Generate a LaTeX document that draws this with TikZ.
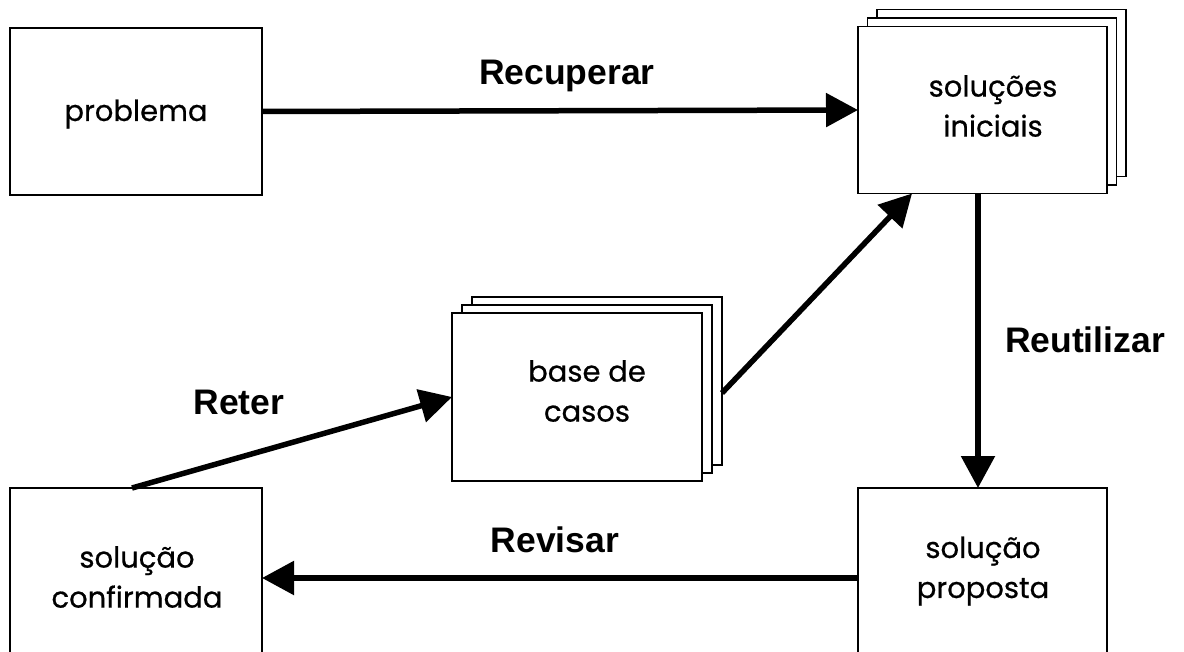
\documentclass[tikz,border=0pt]{standalone}
\usepackage{fontspec}
\newfontfamily\boxfont{Poppins}[FakeBold=0.6]
\newfontfamily\labelfont{Liberation Sans}
\usetikzlibrary{arrows.meta}
\begin{document}
\begin{tikzpicture}[x=1pt,y=-1pt,
  box/.style={draw, line width=1.4pt, fill=white, inner sep=0pt, outer sep=0pt,
              minimum width=250pt, minimum height=167pt},
  boxtext/.style={font=\boxfont\fontsize{29}{40}\selectfont, align=center, inner sep=0pt},
  flow/.style={line width=5.5pt, -{Triangle[length=32pt,width=33pt]}},
  steplabel/.style={font=\labelfont\bfseries\fontsize{35.5}{40}\selectfont, inner sep=0pt}]
\useasboundingbox (0,0) rectangle (1184,652);
\clip (0,0) rectangle (1184,652);

% single boxes
\node[box, minimum width=252pt] (prob) at (136,111.5) {};
\node[box, minimum width=252pt] (conf) at (136,571.5) {};
\node[box, minimum width=249pt] (prop) at (982.5,571.5) {};

% stacked boxes: back sheets first, front sheet last
\node[box, minimum width=249pt] (ini3) at (1001.5,93) {};
\node[box, minimum width=249pt] (ini2) at (992,101.5) {};
\node[box, minimum width=249pt] (ini)  at (982.5,110) {};

\node[box, minimum height=168pt] (base3) at (597,381) {};
\node[box, minimum height=168pt] (base2) at (587,389) {};
\node[box, minimum height=168pt] (base)  at (577,397) {};

% box texts
\node[boxtext] (tprob) at (136,114) {problema};
\node[boxtext] (tini)  at (993,106) {soluções\\iniciais};
\node[boxtext] (tbase) at (587,391) {base de\\casos};
\node[boxtext] (tconf) at (137,577) {solução\\confirmada};
\node[boxtext] (tprop) at (983,571) {solução\\proposta};

% connectors
\draw[flow] (prob.east) -- (ini.west);
\draw[flow] ([xshift=-4.5pt]ini.south) -- ([xshift=-4.5pt]prop.north);
\draw[flow] ([yshift=-6.5pt]prop.west) -- ([yshift=-6.5pt]conf.east);
\draw[flow] ([xshift=-4pt]conf.north) -- (base.west);
\coordinate (bout) at ([yshift=-12pt]base3.east);
\draw[flow] (bout) -- ([xshift=54pt]ini.south west);

% step labels
\node[steplabel] (lrec) at (567,76) {Recuperar};
\node[steplabel] (lreu) at (1085,340) {Reutilizar};
\node[steplabel] (lret) at (239,402) {Reter};
\node[steplabel] (lrev) at (555,540) {Revisar};
\end{tikzpicture}
\end{document}
